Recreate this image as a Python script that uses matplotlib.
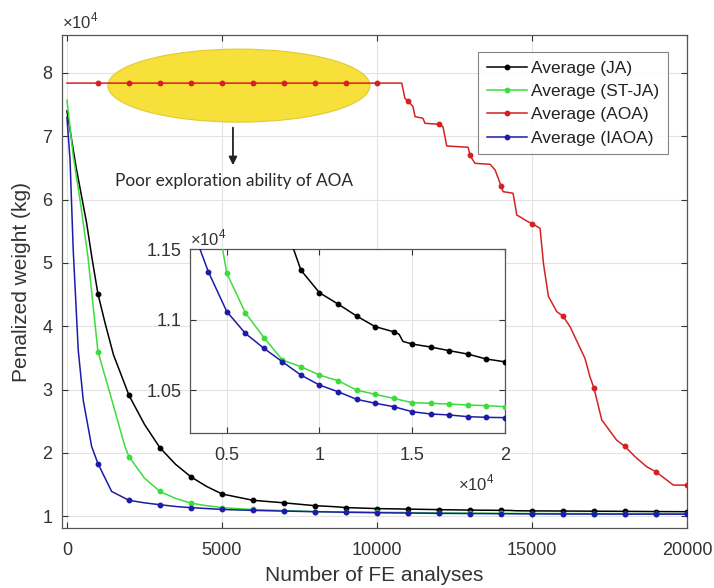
import matplotlib
matplotlib.use('Agg')
import matplotlib.pyplot as plt
from matplotlib.patches import Ellipse
import numpy as np

plt.rcParams['font.family'] = ['Liberation Sans', 'DejaVu Sans']
plt.rcParams['mathtext.fontset'] = 'custom'
plt.rcParams['mathtext.rm'] = 'Liberation Sans'

# data (x = number of FE analyses, y = penalized weight in kg)
ja_x = [0, 300, 635, 800, 1000, 1230, 1500, 2000, 2500, 3000, 3500, 4000, 4500, 5000, 6000, 7000,
        8000, 8600, 9000, 10000, 11000, 12000, 13000, 14000, 14300, 14500, 15000, 16000, 17000,
        18000, 19000, 20000]
ja_y = [74000, 65000, 56300, 51000, 45100, 40500, 35500, 29100, 24500, 20800, 18200, 16200, 14700,
        13500, 12500, 12100, 11650, 11500, 11350, 11190, 11110, 11025, 10950, 10913, 10895, 10845,
        10826, 10805, 10779, 10755, 10720, 10700]

stja_x = [0, 200, 420, 677, 1000, 1387, 1871, 2000, 2500, 3000, 3500, 4000, 4500, 4770, 5000, 6000,
          7000, 8000, 9000, 10000, 11000, 12000, 13000, 14000, 15000, 16000, 17000, 18000, 19000,
          20000]
stja_y = [75700, 67000, 60000, 51000, 36000, 29400, 21000, 19400, 16000, 13900, 12800, 12050,
          11650, 11500, 11328, 11048, 10872, 10713, 10665, 10606, 10566, 10500, 10469, 10441, 10410,
          10406, 10400, 10394, 10389, 10382]

aoa_x = [0, 1000, 2000, 3000, 4000, 5000, 6000, 7000, 8000, 9000, 10000, 10800, 10900, 11000,
         11160, 11230, 11480, 11550, 12000, 12130, 12250, 12940, 13000, 13160, 13650, 13810, 14000,
         14070, 14390, 14510, 14870, 15000, 15260, 15370, 15530, 15800, 16000, 16230, 16710, 16870,
         17000, 17250, 17730, 18000, 18320, 18700, 19000, 19560, 20000]
aoa_y = [78400, 78400, 78400, 78400, 78400, 78400, 78400, 78400, 78400, 78400, 78400, 78400, 76000,
         75600, 74700, 73100, 72850, 72050, 71900, 71500, 68470, 68260, 67000, 65730, 65570, 64680,
         62200, 61250, 61000, 57570, 56510, 56200, 55470, 49900, 44700, 42300, 41600, 39900, 34900,
         32000, 30200, 25200, 22000, 21000, 19400, 17800, 17000, 14900, 14900]

iaoa_x = [0, 100, 203, 365, 526, 797, 1000, 1441, 2000, 2500, 3000, 3550, 4000, 5000, 6000, 7000,
          8000, 9000, 10000, 11000, 12000, 13000, 14000, 15000, 16000, 17000, 18000, 19000, 20000]
iaoa_y = [73000, 66300, 52000, 36200, 28300, 21000, 18300, 13900, 12500, 12100, 11800, 11500,
          11340, 11056, 10902, 10796, 10700, 10606, 10535, 10488, 10434, 10406, 10382, 10346, 10330,
          10323, 10311, 10306, 10304]

series = [
    ('Average (JA)', ja_x, ja_y, '#000000'),
    ('Average (ST-JA)', stja_x, stja_y, '#3ddc3d'),
    ('Average (AOA)', aoa_x, aoa_y, '#d42222'),
    ('Average (IAOA)', iaoa_x, iaoa_y, '#1c1ca8'),
]

main_xticks = [0, 5000, 10000, 15000, 20000]
main_yticks = [10000, 20000, 30000, 40000, 50000, 60000, 70000, 80000]
inset_xticks = [5000, 10000, 15000, 20000]
inset_xlabels = ['0.5', '1', '1.5', '2']
inset_yticks = [10500, 11000, 11500]
inset_ylabels = ['1.05', '1.1', '1.15']

TEXT_GRAY = '#333333'


def draw_series(ax, with_label):
    for name, xs, ys, color in series:
        xs = np.array(xs)
        ys = np.array(ys)
        marks = [i for i, x in enumerate(xs) if x > 0 and x % 1000 == 0]
        ax.plot(xs, ys, color=color, lw=1.1, marker='o', ms=3.2, markevery=marks,
                label=name if with_label else None, zorder=3)


def style_axes(ax):
    ax.tick_params(direction='in', top=True, right=True, labelsize=13, colors=TEXT_GRAY,
                   length=4, width=0.8)
    ax.grid(True, color='#e3e3e3', lw=0.8)
    ax.set_axisbelow(True)
    for spine in ax.spines.values():
        spine.set_color('#555555')
        spine.set_linewidth(0.9)


fig = plt.figure(figsize=(7.14, 5.88), dpi=100)
ax = fig.add_axes([0.0868, 0.102, 0.8754, 0.8385])

ax.add_patch(Ellipse((5548, 78000), 8450, 11530, facecolor='#f7e03a', edgecolor='#e2c935',
                     lw=0.8, zorder=2))
draw_series(ax, True)

ax.set_xlim(-160, 20000)
ax.set_ylim(8120, 86000)
ax.set_xticks(main_xticks)
ax.set_xticklabels([str(t) for t in main_xticks])
ax.set_yticks(main_yticks)
ax.set_yticklabels([str(t // 10000) for t in main_yticks])
style_axes(ax)
ax.tick_params(axis='x', pad=10)
ax.tick_params(axis='y', pad=7)
ax.set_xlabel('Number of FE analyses', fontsize=15, color=TEXT_GRAY, labelpad=5)
ax.set_ylabel('Penalized weight (kg)', fontsize=15, color=TEXT_GRAY, labelpad=8)
ax.text(0.0, 1.008, r'$\times10^{4}$', transform=ax.transAxes, fontsize=12, color=TEXT_GRAY,
        ha='left', va='bottom')

ax.annotate('', xy=(5355, 65000), xytext=(5355, 71800),
            arrowprops=dict(arrowstyle='-|>', color='#222222', lw=1.3, mutation_scale=12))
ax.text(5400, 63000, 'Poor exploration ability of AOA', ha='center', va='center',
        fontsize=12.4, family='Lato', color='#2a2a2a')

leg = ax.legend(loc='upper right', bbox_to_anchor=(0.9356, 0.9116),
                bbox_transform=fig.transFigure, fontsize=12.5, frameon=True, fancybox=False,
                handlelength=2.3, handletextpad=0.25, borderpad=0.5, labelspacing=0.47,
                borderaxespad=0)
leg.get_frame().set_edgecolor('#666666')
leg.get_frame().set_linewidth(0.8)
for t in leg.get_texts():
    t.set_color('#222222')

ins = fig.add_axes([0.266, 0.2636, 0.441, 0.3129])
draw_series(ins, False)
ins.set_xlim(3010, 20000)
ins.set_ylim(10195, 11500)
ins.set_xticks(inset_xticks)
ins.set_xticklabels(inset_xlabels)
ins.set_yticks(inset_yticks)
ins.set_yticklabels(inset_ylabels)
style_axes(ins)
ins.set_facecolor('white')
ins.tick_params(axis='x', pad=10)
ins.tick_params(axis='y', pad=6)
ins.text(0.0, 1.005, r'$\times10^{4}$', transform=ins.transAxes, fontsize=12, color=TEXT_GRAY,
         ha='left', va='bottom')
ins.text(0.85, -0.33, r'$\times10^{4}$', transform=ins.transAxes, fontsize=12, color=TEXT_GRAY,
         ha='left', va='bottom')

fig.savefig('out.png', dpi=100)
